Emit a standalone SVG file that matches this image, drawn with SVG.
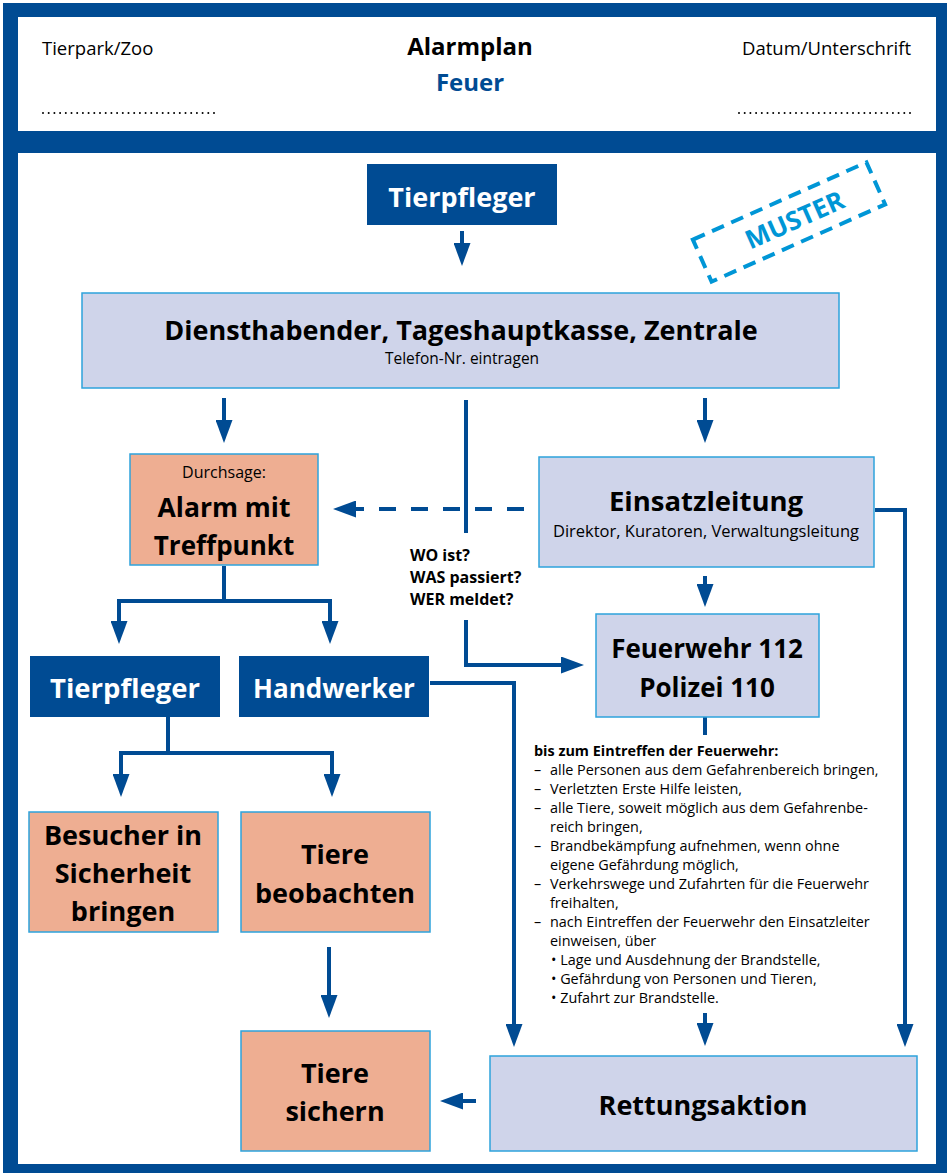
<svg xmlns="http://www.w3.org/2000/svg" width="950" height="1173" viewBox="0 0 950 1173">
<style>
.b{font-family:"Open Sans","Noto Sans","Liberation Sans",sans-serif;font-weight:bold;fill:#000}
.r{font-family:"Open Sans","Noto Sans","Liberation Sans",sans-serif;fill:#000}
.w{fill:#fff}
.c{text-anchor:middle}
.lav{fill:#cfd4ea;stroke:#2ea3dc;stroke-width:1.5}
.sal{fill:#eeae92;stroke:#2ea3dc;stroke-width:1.5}
.dk{fill:#004b93}
.con path{fill:none;stroke:#004b93;stroke-width:4;marker-end:url(#ah)}
.con path.nm{marker-end:none}
</style>
<defs>
<marker id="ah" viewBox="0 0 23 17" markerWidth="23" markerHeight="17" markerUnits="userSpaceOnUse" refX="5" refY="8.5" orient="auto">
<path d="M0,0 L23,8.5 L0,17 z" fill="#004b93"/>
</marker>
</defs>
<rect x="0" y="0" width="950" height="1173" fill="#fff"/>
<rect x="3" y="3" width="944" height="1170" class="dk"/>
<rect x="18" y="17" width="918" height="114" fill="#fff"/>
<rect x="18" y="153" width="918" height="1011" fill="#fff"/>

<g id="header">
<text x="42" y="55" class="r" font-size="18.5">Tierpark/Zoo</text>
<text x="470" y="55" class="b c" font-size="24">Alarmplan</text>
<text x="470" y="91" class="b c" font-size="24" style="fill:#004b93">Feuer</text>
<text x="911" y="55" class="r" font-size="18.5" text-anchor="end">Datum/Unterschrift</text>
<line x1="43" y1="113" x2="215" y2="113" stroke="#000" stroke-width="2" stroke-linecap="round" stroke-dasharray="0 5.7"/>
<line x1="739" y1="113" x2="911" y2="113" stroke="#000" stroke-width="2" stroke-linecap="round" stroke-dasharray="0 5.7"/>
</g>

<g id="muster" transform="translate(789,222) rotate(-24)">
<rect x="-95" y="-23" width="190" height="46" fill="none" stroke="#0096d6" stroke-width="4" stroke-dasharray="13 8"/>
<text x="6" y="9.5" class="b c" font-size="26" style="fill:#0096d6">MUSTER</text>
</g>

<g class="con" id="connectors">
<path d="M462,231 V248"/>
<path d="M224,398 V425"/>
<path d="M705,398 V425"/>
<path class="nm" d="M466,400 V533"/>
<path d="M524,509 H351" stroke-dasharray="17 15"/>
<path d="M466,620 V665 H566"/>
<path d="M705,576 V589"/>
<path class="nm" d="M705,717 V735"/>
<path d="M705,1013 V1028"/>
<path d="M875,510 H905 V1029"/>
<path d="M430,683 H514 V1029"/>
<path d="M224,566 V601 H119 V626"/>
<path d="M224,601 H330 V626"/>
<path d="M168,717 V753 H121 V779"/>
<path d="M168,753 H332 V779"/>
<path d="M329,947 V1000"/>
<path d="M476,1101 H458"/>
</g>

<g id="tierpfleger-top">
<rect x="367" y="164" width="190" height="61" class="dk"/>
<text x="462" y="207" class="b w c" font-size="27">Tierpfleger</text>
</g>

<g id="diensthabender">
<rect x="82" y="293" width="757" height="95" class="lav"/>
<text x="461" y="340" class="b c" font-size="27">Diensthabender, Tageshauptkasse, Zentrale</text>
<text x="462" y="364" class="r c" font-size="15.5">Telefon-Nr. eintragen</text>
</g>

<g id="alarm">
<rect x="130" y="454" width="188" height="111" class="sal"/>
<text x="224" y="478" class="r c" font-size="16">Durchsage:</text>
<text x="224" y="517" class="b c" font-size="26.5">Alarm mit</text>
<text x="224" y="555" class="b c" font-size="26">Treffpunkt</text>
</g>

<g id="einsatzleitung">
<rect x="539" y="457" width="335" height="110" class="lav"/>
<text x="706" y="511" class="b c" font-size="27.5">Einsatzleitung</text>
<text x="706" y="537" class="r c" font-size="16.5">Direktor, Kuratoren, Verwaltungsleitung</text>
</g>

<g id="fragen">
<text class="b" font-size="16"><tspan x="410" y="561">WO ist?</tspan><tspan x="410" y="583">WAS passiert?</tspan><tspan x="410" y="605">WER meldet?</tspan></text>
</g>

<g id="feuerwehr">
<rect x="596" y="614" width="223" height="103" class="lav"/>
<text x="707" y="658" class="b c" font-size="26">Feuerwehr 112</text>
<text x="707" y="697" class="b c" font-size="26">Polizei 110</text>
</g>

<g id="tierpfleger">
<rect x="30" y="656" width="190" height="61" class="dk"/>
<text x="125" y="698" class="b w c" font-size="27.5">Tierpfleger</text>
</g>

<g id="handwerker">
<rect x="239" y="656" width="190" height="61" class="dk"/>
<text x="334" y="698" class="b w c" font-size="26">Handwerker</text>
</g>

<g id="besucher">
<rect x="29" y="812" width="189" height="120" class="sal"/>
<text x="123" y="845" class="b c" font-size="27">Besucher in</text>
<text x="123" y="883" class="b c" font-size="27">Sicherheit</text>
<text x="123" y="921" class="b c" font-size="27">bringen</text>
</g>

<g id="tiere-beobachten">
<rect x="241" y="812" width="189" height="120" class="sal"/>
<text x="335" y="864" class="b c" font-size="27">Tiere</text>
<text x="335" y="903" class="b c" font-size="27">beobachten</text>
</g>

<g id="massnahmen">
<text x="534" y="756" class="b" font-size="14.4">bis zum Eintreffen der Feuerwehr:</text>
<text class="r" font-size="14.4">
<tspan x="534" y="775">–</tspan><tspan x="550" y="775">alle Personen aus dem Gefahrenbereich bringen,</tspan>
<tspan x="534" y="794">–</tspan><tspan x="550" y="794">Verletzten Erste Hilfe leisten,</tspan>
<tspan x="534" y="813">–</tspan><tspan x="550" y="813">alle Tiere, soweit möglich aus dem Gefahrenbe-</tspan>
<tspan x="550" y="832">reich bringen,</tspan>
<tspan x="534" y="851">–</tspan><tspan x="550" y="851">Brandbekämpfung aufnehmen, wenn ohne</tspan>
<tspan x="550" y="870">eigene Gefährdung möglich,</tspan>
<tspan x="534" y="889">–</tspan><tspan x="550" y="889">Verkehrswege und Zufahrten für die Feuerwehr</tspan>
<tspan x="550" y="908">freihalten,</tspan>
<tspan x="534" y="927">–</tspan><tspan x="550" y="927">nach Eintreffen der Feuerwehr den Einsatzleiter</tspan>
<tspan x="550" y="946">einweisen, über</tspan>
<tspan x="551" y="965">• Lage und Ausdehnung der Brandstelle,</tspan>
<tspan x="551" y="984">• Gefährdung von Personen und Tieren,</tspan>
<tspan x="551" y="1003">• Zufahrt zur Brandstelle.</tspan>
</text>
</g>

<g id="tiere-sichern">
<rect x="241" y="1031" width="189" height="120" class="sal"/>
<text x="335" y="1083" class="b c" font-size="27">Tiere</text>
<text x="335" y="1121" class="b c" font-size="27">sichern</text>
</g>

<g id="rettungsaktion">
<rect x="490" y="1056" width="427" height="95" class="lav"/>
<text x="703" y="1115" class="b c" font-size="27">Rettungsaktion</text>
</g>
</svg>
